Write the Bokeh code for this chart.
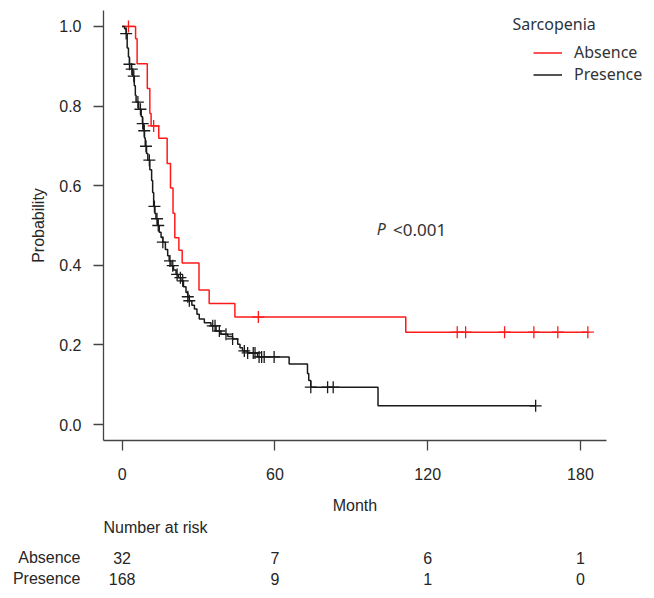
import numpy as np
from bokeh.plotting import figure
from bokeh.models import (Range1d, FixedTicker, NumeralTickFormatter, Legend,
                          LegendItem, Label)
from bokeh.layouts import column
from bokeh.embed import file_html
from bokeh.resources import INLINE
from bokeh.core.properties import value

# ---------------- data ----------------
groups = ["Absence", "Presence"]

absence_time = [0, 5.3, 5.9, 9.9, 10.9, 11.4, 14.4, 17.7, 19.0, 20.0, 20.7,
                22.3, 23.6, 30.2, 34.2, 44.3, 111.4]
absence_surv = [1.0, 0.969, 0.906, 0.844, 0.781, 0.750, 0.719, 0.656, 0.594,
                0.531, 0.469, 0.438, 0.406, 0.338, 0.304, 0.270, 0.232]
absence_censor = [2.5, 12.4, 53.5, 131.6, 134.9, 150.2, 161.7, 171.1, 182.9]

presence_time = [0, 1.0, 1.6, 2.0, 2.5, 2.9, 3.6, 4.2, 4.8, 5.2, 5.5, 6.5,
                 7.5, 8.0, 8.5, 8.8, 9.1, 9.6, 10.1, 10.9, 11.6, 12.0, 12.4,
                 12.9, 13.3, 14.0, 14.6, 15.3, 16.0, 17.0, 17.9, 18.5, 19.2,
                 20.2, 21.2, 22.1, 23.1, 24.1, 25.1, 25.8, 26.4, 27.4, 28.4,
                 29.4, 30.3, 32.3, 34.9, 36.9, 38.8, 41.5, 43.4, 45.4, 46.3,
                 47.3, 49.3, 53.2, 65.6, 72.8, 73.3, 74.1, 100.5]
presence_surv = [1.0, 0.994, 0.982, 0.946, 0.923, 0.905, 0.893, 0.875, 0.851,
                 0.827, 0.810, 0.792, 0.774, 0.756, 0.738, 0.720, 0.699, 0.681,
                 0.664, 0.640, 0.613, 0.583, 0.548, 0.530, 0.517, 0.500, 0.483,
                 0.470, 0.458, 0.440, 0.424, 0.411, 0.399, 0.388, 0.377, 0.369,
                 0.361, 0.346, 0.332, 0.321, 0.311, 0.300, 0.290, 0.277, 0.265,
                 0.256, 0.248, 0.235, 0.227, 0.221, 0.215, 0.202, 0.193, 0.185,
                 0.180, 0.170, 0.152, 0.128, 0.111, 0.094, 0.047]
presence_censor = [1.6, 2.9, 3.8, 4.6, 6.2, 7.2, 8.1, 8.7, 9.4, 10.7, 12.7,
                   13.7, 14.2, 16.0, 18.8, 19.9, 21.6, 22.9, 23.8, 25.8, 26.4,
                   35.6, 36.5, 38.2, 40.8, 43.4, 48.0, 49.3, 51.5, 52.2, 53.8,
                   54.8, 55.8, 59.7, 74.1, 80.7, 82.9, 162.4]

risk_times = [0, 60, 120, 180]
risk_absence = [32, 7, 6, 1]
risk_presence = [168, 9, 1, 0]

x_ticks = [0, 60, 120, 180]
y_ticks = [0.0, 0.2, 0.4, 0.6, 0.8, 1.0]

# ---------------- helpers ----------------
def km_path(times, surv, censor):
    end = max(max(censor), times[-1])
    return list(times) + [end], list(surv) + [surv[-1]]


def censor_y(times, surv, censor):
    idx = np.searchsorted(np.array(times), np.array(censor), side="right") - 1
    return [surv[i] for i in idx]


AX_FONT = "Liberation Sans"
TXT = "#262626"
X_AXIS_START, X_AXIS_END = -7.3, 190.2

# ---------------- main KM plot ----------------
p = figure(width=650, height=486,
           x_range=Range1d(X_AXIS_START, 207.5), y_range=Range1d(-0.04, 1.04),
           output_backend="svg", toolbar_location=None,
           min_border_left=103, min_border_right=0,
           min_border_top=10, min_border_bottom=46)
p.outline_line_color = None
p.grid.visible = False
p.background_fill_color = "white"

for ax in (p.xaxis[0], p.yaxis[0]):
    ax.axis_line_color = "#444444"
    ax.axis_line_width = 1.3
    ax.major_tick_line_color = "#444444"
    ax.major_tick_line_width = 1.3
    ax.major_tick_in = 0
    ax.major_tick_out = 10
    ax.minor_tick_line_color = None
    ax.major_label_text_font = AX_FONT
    ax.major_label_text_font_size = "16px"
    ax.major_label_text_color = TXT
    ax.axis_label_text_font = AX_FONT
    ax.axis_label_text_font_size = "16px"
    ax.axis_label_text_font_style = "normal"
    ax.axis_label_text_color = TXT

p.xaxis.bounds = (X_AXIS_START, X_AXIS_END)
p.xaxis.ticker = FixedTicker(ticks=x_ticks)
p.yaxis.ticker = FixedTicker(ticks=y_ticks)
p.yaxis.formatter = NumeralTickFormatter(format="0.0")
p.yaxis.axis_label = "Probability"
p.xaxis.major_label_standoff = 17
p.yaxis.major_label_standoff = 12
p.yaxis.axis_label_standoff = 9

colors = {"Absence": "#ff1a1a", "Presence": "#1a1a1a"}
series = {
    "Absence": (absence_time, absence_surv, absence_censor),
    "Presence": (presence_time, presence_surv, presence_censor),
}
renderers = {}
for g in groups:
    t, s, c = series[g]
    xs, ys = km_path(t, s, c)
    r = p.step(xs, ys, mode="after", line_color=colors[g], line_width=1.5)
    p.scatter(c, censor_y(t, s, c), marker="cross", size=12,
              line_color=colors[g], line_width=1.3)
    renderers[g] = r

legend = Legend(items=[LegendItem(label=g, renderers=[renderers[g]]) for g in groups],
                location=(430, 355),
                border_line_color=None, background_fill_alpha=0,
                padding=0, margin=0, spacing=0,
                glyph_width=29, glyph_height=21, label_height=21,
                label_standoff=12,
                label_text_font="Noto Sans", label_text_font_size="16px",
                label_text_color="#333333")
p.add_layout(legend)
p.add_layout(Label(x=153.3, y=1.005, text="Sarcopenia", text_font="Noto Sans",
                   text_font_size="16px", text_color="#2a3440",
                   text_baseline="middle", text_align="left"))

# p-value annotation
p.text(x=[100.0], y=[0.491], text=["P"], text_font=value("Noto Sans"),
       text_font_size="16px", text_font_style="italic", text_color="#333333",
       text_align="left", text_baseline="middle")
p.text(x=[106.4], y=[0.491], text=["<0.001"], text_font=value("Noto Sans"),
       text_font_size="17px", text_color="#333333",
       text_align="left", text_baseline="middle")

# ---------------- x title + number at risk table ----------------
row_pos = {"Absence": 1, "Presence": 0}
MONTH_Y = 3.476
HEADER_Y = 2.43
p2 = figure(width=650, height=104, x_range=p.x_range,
            y_range=Range1d(-0.571, 4.381),
            x_axis_location=None, output_backend="svg", toolbar_location=None,
            min_border_left=103, min_border_right=0,
            min_border_top=0, min_border_bottom=0)
p2.outline_line_color = None
p2.grid.visible = False
p2.yaxis.ticker = FixedTicker(ticks=[row_pos[g] for g in groups])
p2.yaxis.major_label_overrides = {row_pos[g]: g for g in groups}
p2.yaxis.axis_line_color = None
p2.yaxis.major_tick_line_color = None
p2.yaxis.minor_tick_line_color = None
p2.yaxis.major_tick_out = 0
p2.yaxis.major_tick_in = 0
p2.yaxis.major_label_standoff = 23
p2.yaxis.major_label_text_font = AX_FONT
p2.yaxis.major_label_text_font_size = "16px"
p2.yaxis.major_label_text_color = TXT

# x-axis title, centred under the drawn axis line
p2.text(x=[(X_AXIS_START + X_AXIS_END) / 2], y=[MONTH_Y], text=["Month"],
        text_font=value(AX_FONT), text_font_size="16px", text_color=TXT,
        text_align="center", text_baseline="middle")
p2.text(x=[X_AXIS_START], y=[HEADER_Y], text=["Number at risk"],
        text_font=value(AX_FONT), text_font_size="16px", text_color=TXT,
        text_align="left", text_baseline="middle")

risk_x = risk_times + risk_times
risk_y = [row_pos["Absence"]] * len(risk_times) + [row_pos["Presence"]] * len(risk_times)
risk_txt = [str(v) for v in risk_absence + risk_presence]
p2.text(x=risk_x, y=risk_y, text=risk_txt, text_font=value(AX_FONT),
        text_font_size="16px", text_color=TXT,
        text_align="center", text_baseline="middle")

layout = column(p, p2)
open("out.html", "w").write(file_html(layout, INLINE))
